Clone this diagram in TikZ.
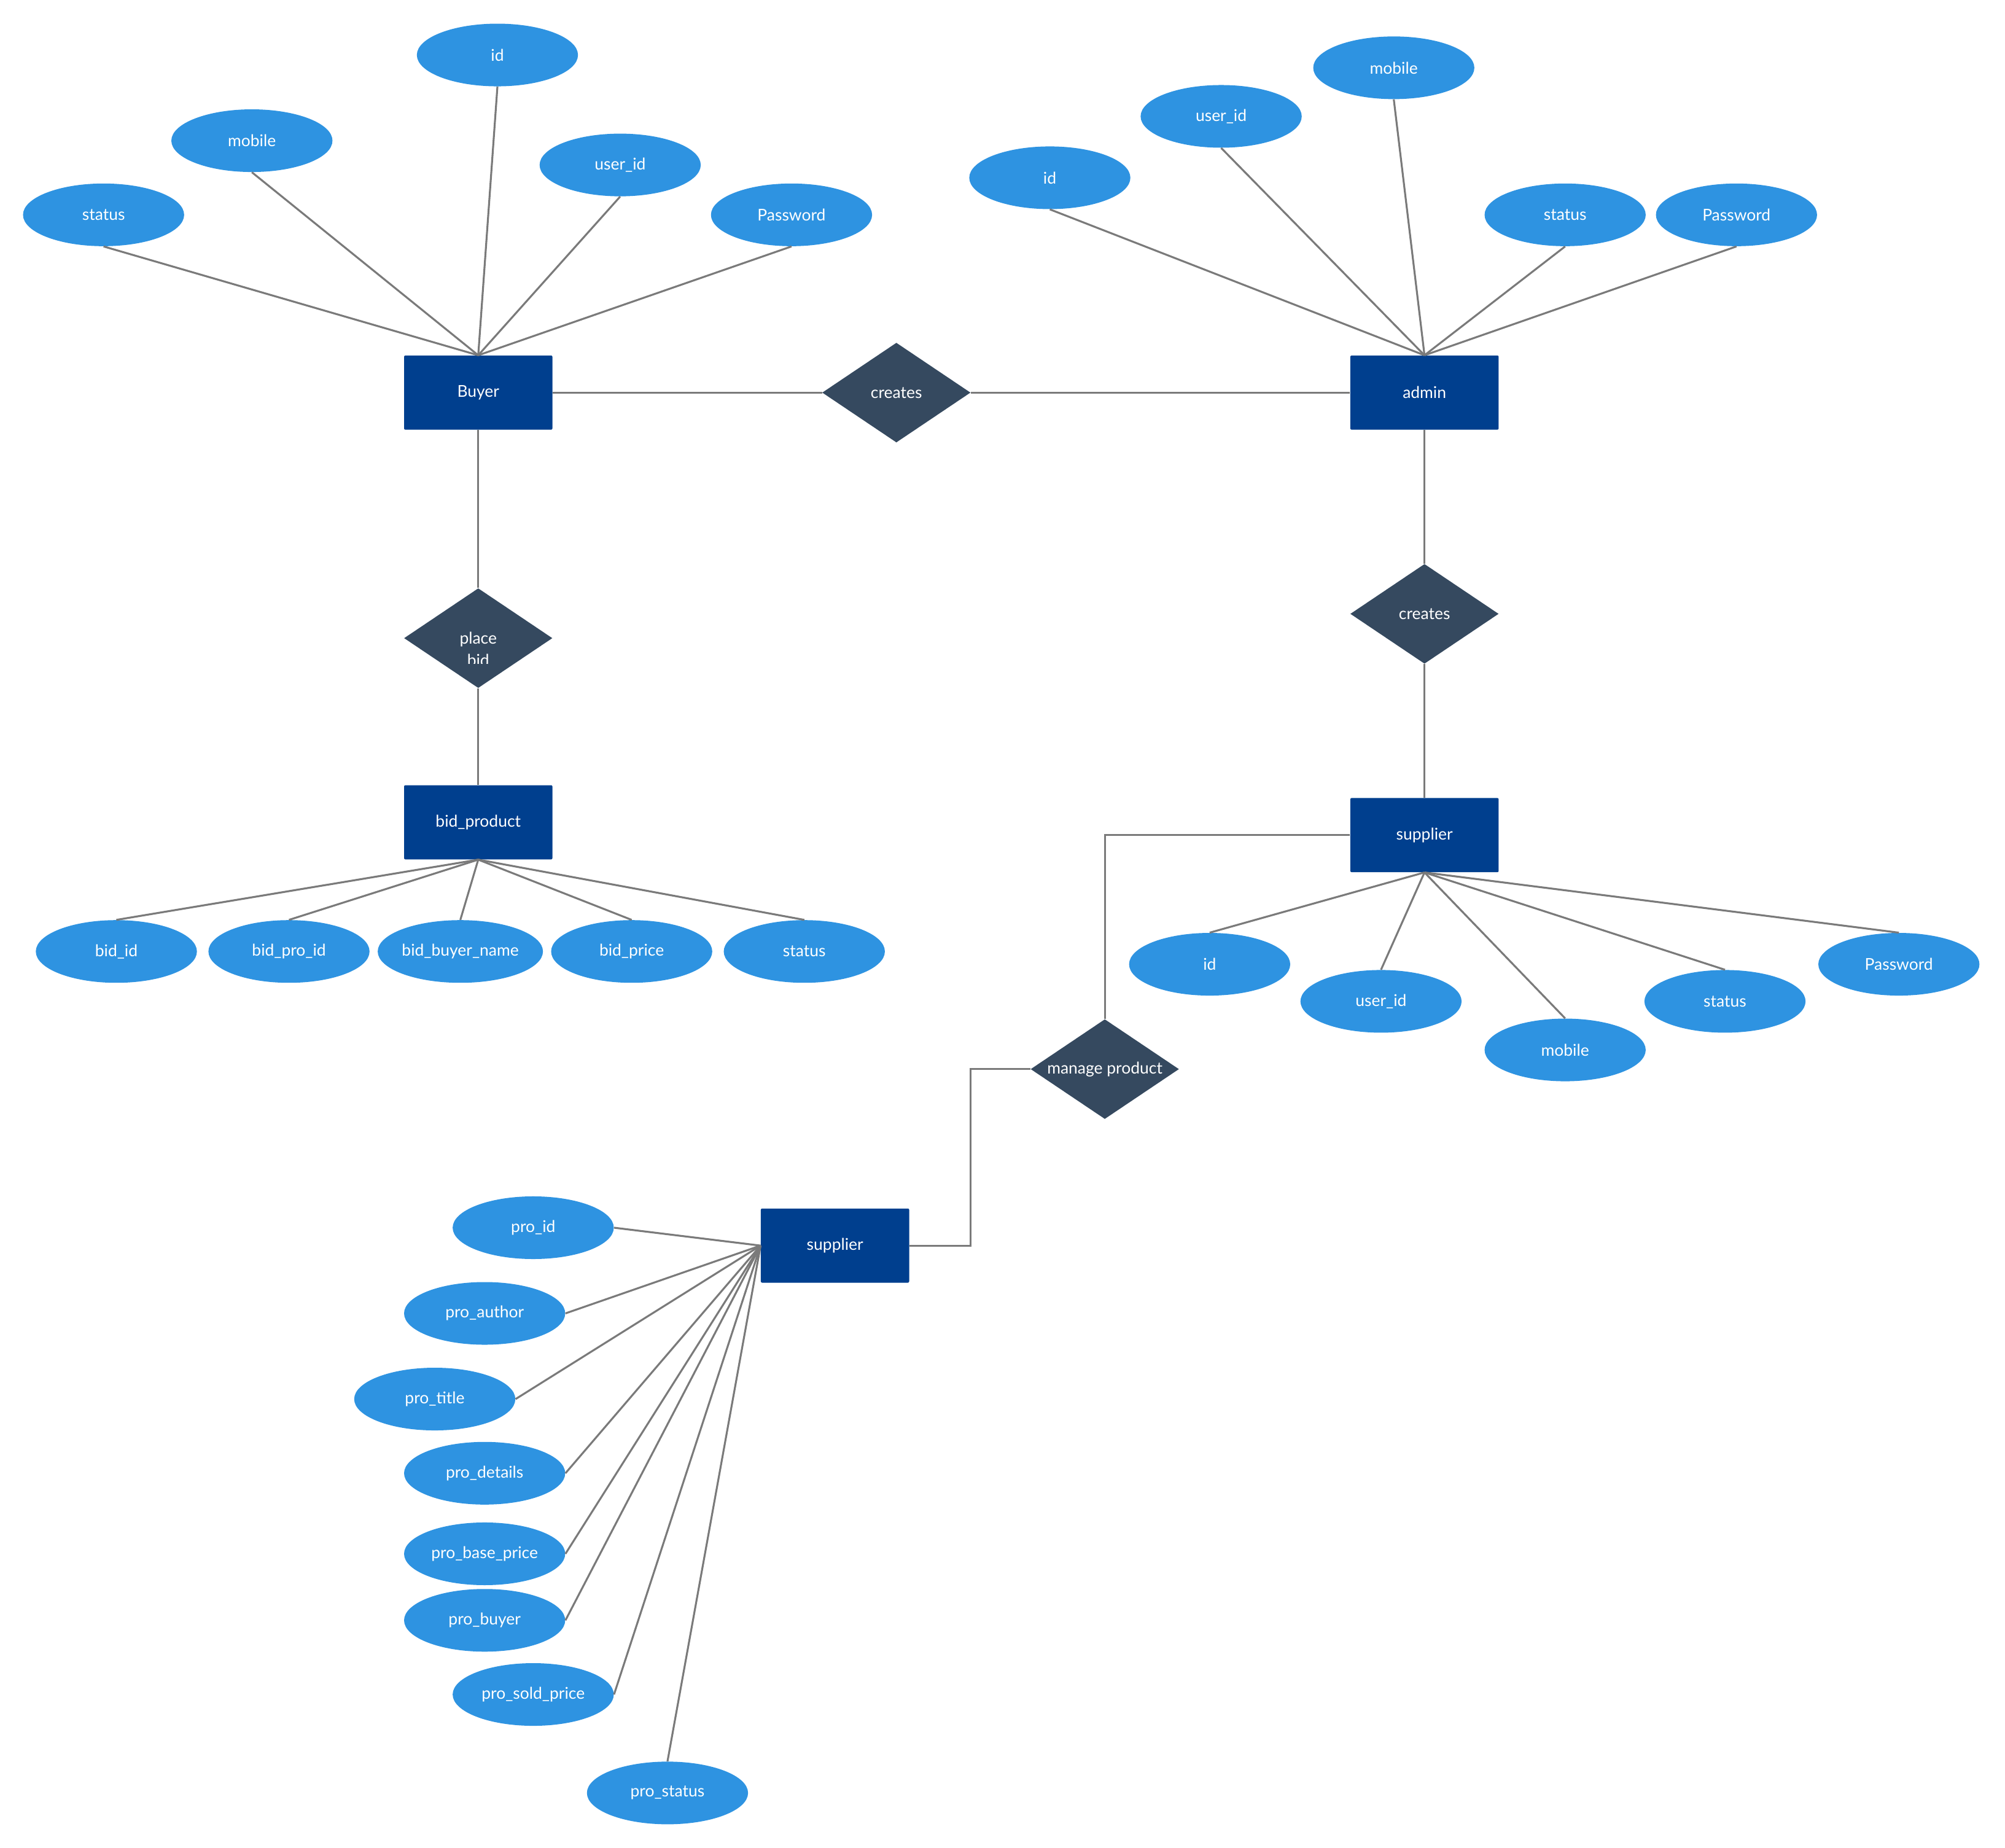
\documentclass[tikz,border=0pt]{standalone}
\usepackage{fontspec}
\setmainfont{Lato}
\usetikzlibrary{shapes.geometric}
\definecolor{entc}{RGB}{0,63,142}
\definecolor{relc}{RGB}{53,73,95}
\definecolor{attc}{RGB}{46,147,225}
\definecolor{linec}{RGB}{122,122,122}
\begin{document}
\begin{tikzpicture}[x=1pt,y=-1pt,
  ent/.style={rectangle, fill=entc, minimum width=116pt, minimum height=58pt, inner sep=0pt, text=white, font=\fontsize{12.7}{15}\selectfont, rounded corners=1pt},
  rel/.style={diamond, fill=relc, minimum width=116pt, minimum height=78pt, inner sep=0pt},
  rtext/.style={text=white, inner sep=0pt, font=\fontsize{12.7}{17.5}\selectfont, align=center},
  attr/.style={ellipse, fill=attc, minimum width=126pt, minimum height=49pt, inner sep=0pt, text=white, font=\fontsize{12.7}{15}\selectfont},
  conn/.style={draw=linec, line width=1.5pt}]
\useasboundingbox (0,0) rectangle (1568,1445);

% entities
\node[ent] (buyer) at (374,307) {Buyer};
\node[ent] (admin) at (1114,307) {admin};
\node[ent] (bp) at (374,643) {bid\_product};
\node[ent] (s1) at (1114,653) {supplier};
\node[ent] (s2) at (653,974) {supplier};

% relationships
\node[rel] (cr1) at (701,307) {};
\node[rtext] at (cr1) {creates};
\node[rel] (cr2) at (1114,480) {};
\node[rtext] at (cr2) {creates};
\node[rel] (pb) at (374,499) {};
\begin{scope}
  \clip (316,470) rectangle (432,518.7);
  \node[rtext, anchor=base] (pbt) at (374,521) {place\\bid};
\end{scope}
\node[rel] (mp) at (864,836) {};
\node[rtext] at (mp) {manage product};

% buyer attributes
\node[attr] (ba1) at (389,43) {id};
\node[attr] (ba2) at (197,110) {mobile};
\node[attr] (ba3) at (485,129) {user\_id};
\node[attr] (ba4) at (81,168) {status};
\node[attr] (ba5) at (619,168) {Password};
\foreach \n in {ba1,ba2,ba3,ba4,ba5} \draw[conn] (\n.south) -- (buyer.north);

% admin attributes
\node[attr] (aa1) at (1090,53) {mobile};
\node[attr] (aa2) at (955,91) {user\_id};
\node[attr] (aa3) at (821,139) {id};
\node[attr] (aa4) at (1224,168) {status};
\node[attr] (aa5) at (1358,168) {Password};
\foreach \n in {aa1,aa2,aa3,aa4,aa5} \draw[conn] (\n.south) -- (admin.north);

% bid_product attributes
\node[attr] (bb1) at (91,744) {bid\_id};
\node[attr] (bb2) at (226,744) {bid\_pro\_id};
\node[attr] (bb3) at (360,744) {bid\_buyer\_name};
\node[attr] (bb4) at (494,744) {bid\_price};
\node[attr] (bb5) at (629,744) {status};
\foreach \n in {bb1,bb2,bb3,bb4,bb5} \draw[conn] (\n.north) -- (bp.south);

% supplier (right) attributes
\node[attr] (sa1) at (946,754) {id};
\node[attr] (sa2) at (1080,783) {user\_id};
\node[attr] (sa3) at (1224,821) {mobile};
\node[attr] (sa4) at (1349,783) {status};
\node[attr] (sa5) at (1485,754) {Password};
\foreach \n in {sa1,sa2,sa3,sa4,sa5} \draw[conn] (\n.north) -- (s1.south);

% supplier (bottom) attributes
\node[attr] (p1) at (417,960) {pro\_id};
\node[attr] (p2) at (379,1027) {pro\_author};
\node[attr] (p3) at (340,1094) {pro\_title};
\node[attr] (p4) at (379,1152) {pro\_details};
\node[attr] (p5) at (379,1215) {pro\_base\_price};
\node[attr] (p6) at (379,1267) {pro\_buyer};
\node[attr] (p7) at (417,1325) {pro\_sold\_price};
\node[attr] (p8) at (522,1402) {pro\_status};
\foreach \n in {p1,p2,p3,p4,p5,p6,p7} \draw[conn] (\n.east) -- (s2.west);
\draw[conn] (p8.north) -- (s2.west);

% relationship connectors
\draw[conn] (buyer.east) -- (cr1.west);
\draw[conn] (cr1.east) -- (admin.west);
\draw[conn] (buyer.south) -- (pb.north);
\draw[conn] (pb.south) -- (bp.north);
\draw[conn] (admin.south) -- (cr2.north);
\draw[conn] (cr2.south) -- (s1.north);
\draw[conn] (s1.west) -| (mp.north);
\coordinate (bend) at (759,836);
\draw[conn] (mp.west) -- (bend) |- (s2.east);
\end{tikzpicture}
\end{document}
